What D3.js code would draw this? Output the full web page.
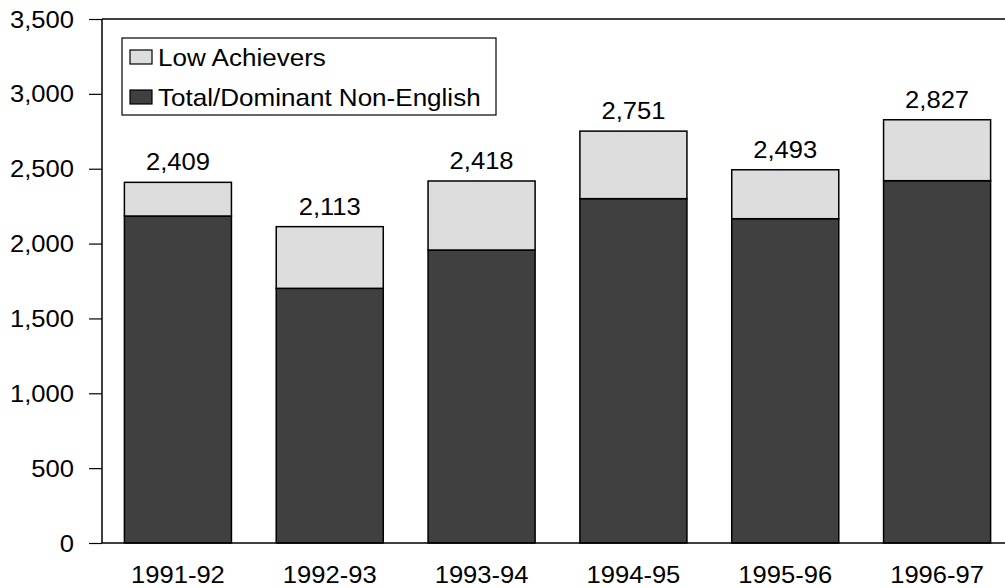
<!DOCTYPE html>
<html>
<head>
<meta charset="utf-8">
<script src="https://cdn.jsdelivr.net/npm/d3@7"></script>
<style>
  html, body { margin: 0; padding: 0; background: #fff; }
  svg { display: block; }
  text { font-family: "Liberation Sans", Arial, sans-serif; fill: #000; }
</style>
</head>
<body>
<svg id="chart" width="1005" height="588"></svg>
<script>
// School years on the category axis
const years = ["1991-92", "1992-93", "1993-94", "1994-95", "1995-96", "1996-97"];
// Students whose dominant language is not English
const nonEnglish = [2184, 1701, 1957, 2300, 2166, 2420];
// Combined totals printed above each bar
const totals = [2409, 2113, 2418, 2751, 2493, 2827];
// Low achievers stacked on top
const lowAchievers = totals.map((t, i) => t - nonEnglish[i]);
const yTicks = [0, 500, 1000, 1500, 2000, 2500, 3000, 3500];
const seriesNames = ["Low Achievers", "Total/Dominant Non-English"];

const DARK = "#404040", LIGHT = "#dddddd";
const FONT = 24, SX = 1.065;

const svg = d3.select("#chart");
const fmt = d3.format(",");

const x = d3.scaleBand().domain(years).range([102, 1013])
  .paddingInner(0.295).paddingOuter(0.1475);
const y = d3.scaleLinear().domain([0, 3500]).range([543, 19]);

// Text helper: slightly widened glyphs
function label(g, str, px, py, anchor, sx) {
  return g.append("text")
    .attr("transform", `translate(${px},${py}) scale(${sx || SX},1)`)
    .attr("text-anchor", anchor)
    .attr("font-size", FONT)
    .text(str);
}

// Stacked bars
const rows = years.map((yr, i) => ({ year: yr, dark: nonEnglish[i], light: lowAchievers[i], total: totals[i] }));
const bars = svg.append("g");
bars.selectAll("rect.dark").data(rows).join("rect")
  .attr("class", "dark")
  .attr("x", d => x(d.year)).attr("width", x.bandwidth())
  .attr("y", d => y(d.dark)).attr("height", d => y(0) - y(d.dark))
  .attr("fill", DARK).attr("stroke", "#000").attr("stroke-width", 1.5);
bars.selectAll("rect.light").data(rows).join("rect")
  .attr("class", "light")
  .attr("x", d => x(d.year)).attr("width", x.bandwidth())
  .attr("y", d => y(d.dark + d.light)).attr("height", d => y(d.dark) - y(d.dark + d.light))
  .attr("fill", LIGHT).attr("stroke", "#000").attr("stroke-width", 1.5);

// Value labels
const vl = svg.append("g");
rows.forEach(d => label(vl, fmt(d.total), x(d.year) + x.bandwidth() / 2, y(d.total) - 12, "middle"));

// Y axis
const yAxis = svg.append("g").attr("transform", "translate(102,0)")
  .call(d3.axisLeft(y).tickValues(yTicks).tickSize(13).tickFormat(""));
yAxis.select(".domain").attr("stroke", "#000").attr("stroke-width", 1.5).attr("d", `M0,${y(3500)}V${y(0)}`);
yAxis.selectAll(".tick line").attr("stroke", "#000").attr("stroke-width", 1.2);
const yl = svg.append("g");
yTicks.forEach(t => label(yl, fmt(t), 74, y(t) + 8.5, "end"));

// Top frame and baseline
svg.append("line").attr("x1", 102).attr("x2", 1005).attr("y1", y(3500)).attr("y2", y(3500))
  .attr("stroke", "#000").attr("stroke-width", 1.5);
svg.append("line").attr("x1", 102).attr("x2", 1005).attr("y1", y(0)).attr("y2", y(0))
  .attr("stroke", "#000").attr("stroke-width", 1.5);

// X labels
const xl = svg.append("g");
years.forEach(yr => label(xl, yr, x(yr) + x.bandwidth() / 2, 583, "middle"));

// Legend
const lg = svg.append("g");
lg.append("rect").attr("x", 122).attr("y", 38).attr("width", 374).attr("height", 77)
  .attr("fill", "#fff").attr("stroke", "#000").attr("stroke-width", 1.2);
[LIGHT, DARK].forEach((c, i) => {
  const cy = 57 + i * 40;
  lg.append("rect").attr("x", 130).attr("y", cy - 7).attr("width", 22).attr("height", 14)
    .attr("fill", c).attr("stroke", "#000").attr("stroke-width", 1.2);
  label(lg, seriesNames[i], 158, cy + 9, "start", 1.085);
});
</script>
</body>
</html>
